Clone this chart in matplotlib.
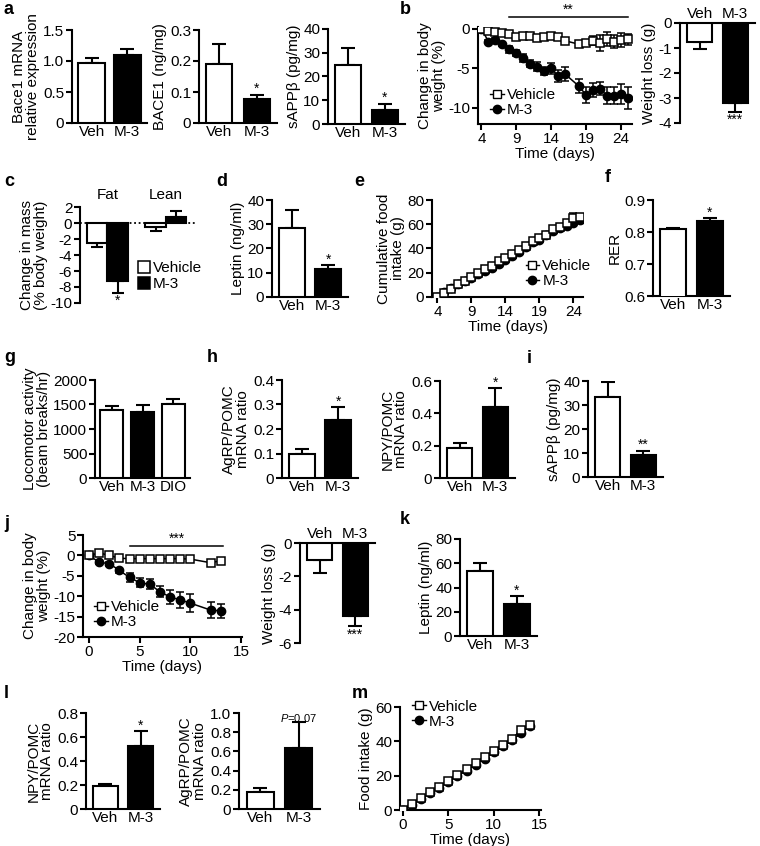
import matplotlib
matplotlib.use('Agg')
import matplotlib.pyplot as plt
import matplotlib.patches as mpatches
from matplotlib.lines import Line2D
import numpy as np

plt.rcParams['font.family'] = ['Liberation Sans', 'DejaVu Sans']
plt.rcParams['mathtext.fontset'] = 'custom'
plt.rcParams['mathtext.it'] = 'Liberation Sans:italic'
plt.rcParams['mathtext.rm'] = 'Liberation Sans'
plt.rcParams['font.size'] = 11

# ---------------- data ----------------
bar_groups = ['Veh', 'M-3']
loco_groups = ['Veh', 'M-3', 'DIO']
series_names = ['Vehicle', 'M-3']
mass_groups = ['Fat', 'Lean']

# a
bace1_mrna = [0.97, 1.10]
bace1_mrna_err = [0.08, 0.09]
bace1_prot = [0.19, 0.078]
bace1_prot_err = [0.065, 0.013]
sappb_a = [25.0, 6.0]
sappb_a_err = [7.0, 2.5]

# b
b_days = [4, 5, 6, 7, 8, 9, 10, 11, 12, 13, 14, 15, 16, 18, 19, 20, 21, 22, 23, 24, 25]
b_veh = [0, -0.3, -0.45, -0.5, -0.6, -1.0, -0.95, -0.95, -1.2, -1.0, -0.95, -1.05, -1.5,
         -1.95, -1.75, -1.5, -1.75, -1.25, -1.6, -1.4, -1.3]
b_veh_err = [0, 0.1, 0.1, 0.1, 0.15, 0.2, 0.2, 0.2, 0.3, 0.3, 0.2, 0.2, 0.2,
             0.3, 0.4, 0.6, 1.0, 0.9, 0.8, 0.9, 0.7]
b_m3 = [0, -1.6, -1.4, -1.9, -2.6, -3.1, -3.7, -4.4, -4.8, -5.3, -5.0, -6.0, -5.75,
        -7.3, -8.4, -7.8, -7.6, -8.5, -8.5, -8.3, -8.8]
b_m3_err = [0, 0.2, 0.3, 0.3, 0.4, 0.4, 0.5, 0.5, 0.6, 0.5, 0.7, 0.8, 0.9,
            0.9, 1.0, 0.9, 0.8, 1.1, 1.1, 1.3, 1.4]
b_loss = [-0.75, -3.2]
b_loss_err = [0.3, 0.35]

# c
c_veh = [-2.5, -0.5]
c_veh_err = [0.5, 0.5]
c_m3 = [-7.2, 0.7]
c_m3_err = [1.5, 0.8]

# d
leptin_d = [28.5, 11.5]
leptin_d_err = [7.5, 1.5]

# e
e_days = list(range(4, 26))
e_veh = [0, 3.5, 7, 10.5, 13.5, 16.5, 19.5, 23.5, 25.5, 29.5, 32, 35.5, 38.5, 42, 46,
         48.7, 51.5, 56, 58, 61, 65.5, 66]
e_veh_err = [0, 0.5, 0.6, 0.7, 0.8, 0.9, 1.0, 1.0, 1.1, 1.2, 1.3, 1.4, 1.5, 1.6, 1.7,
             1.8, 1.9, 2.0, 2.1, 2.3, 3.5, 2.5]
e_m3 = [0, 3.9, 7.2, 10.5, 13.2, 16, 18.7, 21.7, 24.2, 27, 30.5, 34, 37.5, 41, 45.5,
        47, 51, 54.5, 56.7, 58.7, 61, 63.5]
e_m3_err = [0, 0.4, 0.5, 0.6, 0.7, 0.8, 0.9, 1.0, 1.0, 1.1, 1.2, 1.3, 1.4, 1.5, 1.6,
            1.7, 1.8, 1.9, 2.0, 2.1, 2.2, 2.3]

# f
rer = [0.808, 0.833]
rer_err = [0.004, 0.010]

# g
loco = [1380, 1340, 1510]
loco_err = [80, 150, 110]

# h
agrp_h = [0.10, 0.235]
agrp_h_err = [0.02, 0.055]
npy_h = [0.185, 0.44]
npy_h_err = [0.03, 0.115]

# i
sappb_i = [33.5, 9.0]
sappb_i_err = [6.0, 2.0]

# j
j_days = [0, 1, 2, 3, 4, 5, 6, 7, 8, 9, 10, 12, 13]
j_veh = [0, 0.6, 0.0, -0.7, -0.8, -0.8, -0.8, -0.8, -0.8, -0.8, -0.9, -1.8, -1.3]
j_veh_err = [0, 0.3, 0.3, 0.3, 0.3, 0.3, 0.3, 0.3, 0.3, 0.3, 0.3, 0.5, 0.5]
j_m3 = [0, -1.7, -2.0, -3.7, -5.4, -6.7, -7.1, -8.9, -10.2, -10.9, -11.7, -13.4, -13.6]
j_m3_err = [0, 0.5, 0.5, 0.7, 1.0, 1.1, 1.2, 1.4, 1.8, 2.0, 2.2, 2.0, 1.8]
j_loss = [-1.0, -4.4]
j_loss_err = [0.8, 0.6]

# k
leptin_k = [54, 26]
leptin_k_err = [6.5, 7.0]

# l
npy_l = [0.195, 0.525]
npy_l_err = [0.015, 0.125]
agrp_l = [0.175, 0.635]
agrp_l_err = [0.04, 0.27]

# m
m_days = list(range(0, 15))
m_veh = [0, 3.4, 6.8, 10.2, 13.6, 17, 20.5, 24, 27.5, 31, 34.5, 38, 41.5, 46.5, 49.5]
m_veh_err = [0, 0.5, 0.6, 0.7, 0.8, 0.9, 1.0, 1.1, 1.2, 1.3, 1.4, 1.5, 1.6, 1.8, 2.0]
m_m3 = [0, 3.2, 6.5, 9.8, 13, 16.5, 19.8, 23, 26.5, 30, 33.5, 37, 40.5, 45, 49]
m_m3_err = [0, 0.5, 0.6, 0.7, 0.8, 0.9, 1.0, 1.1, 1.2, 1.3, 1.4, 1.5, 1.6, 1.8, 2.0]

WHITE_BLACK = ['white', 'black']

# ---------------- layout helpers ----------------
W, H = 760, 846
fig = plt.figure(figsize=(W / 100, H / 100), dpi=100)
fig.patch.set_facecolor('white')
LW = 1.5
FS = 11


def px_axes(l, t, r, b):
    return fig.add_axes([l / W, 1 - b / H, (r - l) / W, (b - t) / H])


def frame(ax, top=False, xticks=False):
    ax.spines['right'].set_visible(False)
    if top:
        ax.spines['bottom'].set_visible(False)
        ax.xaxis.tick_top()
    else:
        ax.spines['top'].set_visible(False)
    for s in ax.spines.values():
        s.set_linewidth(LW)
    ax.tick_params(axis='y', length=4, width=LW, pad=1.5, labelsize=FS)
    ax.tick_params(axis='x', length=4 if xticks else 0, width=LW, pad=1.5, labelsize=FS)
    ax.patch.set_alpha(0)


def bar_panel(ax, labels, vals, errs, ylim, ticks, ticklabels, ylabel,
              marks=None, top=False, width=0.7, fills=WHITE_BLACK):
    x = np.arange(len(vals))
    ax.bar(x, vals, width=width, color=fills, edgecolor='black', linewidth=LW, zorder=3)
    for xi, v, e in zip(x, vals, errs):
        yerr = [[0], [e]] if v >= 0 else [[e], [0]]
        ax.errorbar([xi], [v], yerr=yerr, fmt='none', ecolor='black',
                    elinewidth=LW, capsize=5, capthick=LW, zorder=2)
    ax.set_xlim(-0.55, len(vals) - 0.45)
    ax.set_ylim(*ylim)
    ax.set_yticks(ticks)
    ax.set_yticklabels(ticklabels)
    ax.set_xticks(x)
    ax.set_xticklabels(labels)
    ax.set_ylabel(ylabel, labelpad=2, linespacing=1.0, fontsize=FS)
    frame(ax, top=top)
    if marks:
        for i, m in marks.items():
            v, e = vals[i], errs[i]
            if v >= 0:
                ax.annotate(m, (x[i], v + e), xytext=(0, -1), textcoords='offset points',
                            ha='center', va='bottom', fontsize=10, annotation_clip=False)
            else:
                ax.annotate(m, (x[i], v - e), xytext=(0, -1), textcoords='offset points',
                            ha='center', va='top', fontsize=10, annotation_clip=False)


def line_panel(ax, days, veh, veh_err, m3, m3_err):
    ax.errorbar(days, m3, yerr=m3_err, fmt='-o', color='black', ms=6, lw=1.1,
                elinewidth=1.1, capsize=3, capthick=1.1, zorder=3)
    ax.errorbar(days, veh, yerr=veh_err, fmt='-s', color='black', mfc='white', mec='black',
                ms=5.5, mew=1.1, lw=1.1, elinewidth=1.1, capsize=3, capthick=1.1, zorder=4)
    frame(ax, xticks=True)


def series_legend(ax, anchor):
    handles = [Line2D([], [], color='black', lw=1, marker='s', mfc='white', mec='black', ms=5.5),
               Line2D([], [], color='black', lw=1, marker='o', ms=6)]
    ax.legend(handles, series_names, loc='center left', bbox_to_anchor=anchor, frameon=False,
              handlelength=0.9, handletextpad=0.2, borderpad=0, labelspacing=0.05,
              borderaxespad=0, fontsize=FS)


def letter(x, y, s):
    fig.text(x / W, 1 - y / H, s, fontsize=13, fontweight='bold', ha='left', va='center')


# ---------------- panel a ----------------
letter(4, 10, 'a')
ax = px_axes(72, 30, 147, 123)
bar_panel(ax, bar_groups, bace1_mrna, bace1_mrna_err, (0, 1.5), [0, 0.5, 1.0, 1.5],
          ['0', '0.5', '1.0', '1.5'], 'Bace1 mRNA\nrelative expression', width=0.75)
ax = px_axes(199, 30, 277, 123)
bar_panel(ax, bar_groups, bace1_prot, bace1_prot_err, (0, 0.3), [0, 0.1, 0.2, 0.3],
          ['0', '0.1', '0.2', '0.3'], 'BACE1 (ng/mg)', marks={1: '*'})
ax = px_axes(328, 29, 405, 124)
bar_panel(ax, bar_groups, sappb_a, sappb_a_err, (0, 40), [0, 10, 20, 30, 40],
          ['0', '10', '20', '30', '40'], 'sAPPβ (pg/mg)', marks={1: '*'})

# ---------------- panel b ----------------
letter(400, 10, 'b')
ax = px_axes(478, 27, 632, 124)
line_panel(ax, b_days, b_veh, b_veh_err, b_m3, b_m3_err)
ax.set_xlim(3.5, 25.6)
ax.set_ylim(-12.1, 0.25)
ax.set_xticks([4, 9, 14, 19, 24])
ax.set_yticks([0, -5, -10])
ax.set_yticklabels(['0', '-5', '-10'])
ax.set_xlabel('Time (days)', labelpad=1)
ax.set_ylabel('Change in body\nweight (%)', labelpad=2, linespacing=1.0)
ax.plot([8, 25], [1.5, 1.5], color='black', lw=1.1, clip_on=False)
ax.text(16.5, 1.6, '**', ha='center', va='bottom', fontsize=10)
series_legend(ax, (0.08, 0.22))

ax = px_axes(680, 23, 755, 123)
bar_panel(ax, bar_groups, b_loss, b_loss_err, (-4, 0), [0, -1, -2, -3, -4],
          ['0', '-1', '-2', '-3', '-4'], 'Weight loss (g)', marks={1: '***'}, top=True)

# ---------------- panel c ----------------
letter(4, 182, 'c')
ax = px_axes(80, 207, 195, 303)
gx = np.arange(len(mass_groups))
off, bw = 0.175, 0.35
for dx, vals, errs, col in [(-off, c_veh, c_veh_err, 'white'), (off, c_m3, c_m3_err, 'black')]:
    ax.bar(gx + dx, vals, width=bw, color=col, edgecolor='black', linewidth=LW, zorder=3)
    for xi, v, e in zip(gx + dx, vals, errs):
        yerr = [[0], [e]] if v >= 0 else [[e], [0]]
        ax.errorbar([xi], [v], yerr=yerr, fmt='none', ecolor='black', elinewidth=LW,
                    capsize=4, capthick=LW, zorder=2)
ax.axhline(0, color='black', lw=1.3, ls=(0, (1, 1.5)), zorder=1)
ax.set_xlim(-0.47, 1.5)
ax.set_ylim(-10, 2)
ax.set_yticks([2, 0, -2, -4, -6, -8, -10])
ax.set_yticklabels(['2', '0', '-2', '-4', '-6', '-8', '-10'])
ax.set_xticks([])
ax.set_ylabel('Change in mass\n(% body weight)', labelpad=2, linespacing=1.0)
frame(ax)
ax.spines['bottom'].set_visible(False)
for g, name in zip(gx, mass_groups):
    ax.text(g, 2.6, name, ha='center', va='bottom', fontsize=FS)
ax.annotate('*', (off, c_m3[0] - c_m3_err[0]), xytext=(0, -1), textcoords='offset points',
            ha='center', va='top', fontsize=10)
ax.legend([mpatches.Patch(facecolor='white', edgecolor='black', lw=1.1),
           mpatches.Patch(facecolor='black', edgecolor='black', lw=1.1)], series_names,
          loc='center left', bbox_to_anchor=(0.5, 0.28), frameon=False, handlelength=0.8,
          handleheight=0.8, handletextpad=0.2, labelspacing=0.1, borderpad=0, borderaxespad=0,
          fontsize=FS)

# ---------------- panel d ----------------
letter(216, 182, 'd')
ax = px_axes(272, 200, 348, 297)
bar_panel(ax, bar_groups, leptin_d, leptin_d_err, (0, 40), [0, 10, 20, 30, 40],
          ['0', '10', '20', '30', '40'], 'Leptin (ng/ml)', marks={1: '*'})

# ---------------- panel e ----------------
letter(354, 182, 'e')
ax = px_axes(432, 200, 583, 297)
line_panel(ax, e_days, e_veh, e_veh_err, e_m3, e_m3_err)
ax.set_xlim(3.2, 25.4)
ax.set_ylim(0, 80)
ax.set_xticks([4, 9, 14, 19, 24])
ax.set_yticks([0, 20, 40, 60, 80])
ax.set_xlabel('Time (days)', labelpad=1)
ax.set_ylabel('Cumulative food\nintake (g)', labelpad=2, linespacing=1.0)
series_legend(ax, (0.62, 0.24))

# ---------------- panel f ----------------
letter(605, 178, 'f')
ax = px_axes(653, 200, 730, 296)
bar_panel(ax, bar_groups, rer, rer_err, (0.6, 0.9), [0.6, 0.7, 0.8, 0.9],
          ['0.6', '0.7', '0.8', '0.9'], 'RER', marks={1: '*'})

# ---------------- panel g ----------------
letter(4, 357, 'g')
ax = px_axes(95, 380, 190, 478)
bar_panel(ax, loco_groups, loco, loco_err, (0, 2000), [0, 500, 1000, 1500, 2000],
          ['0', '500', '1000', '1500', '2000'], 'Locomotor activity\n(beam breaks/hr)',
          width=0.75, fills=['white', 'black', 'white'])

# ---------------- panel h ----------------
letter(207, 357, 'h')
ax = px_axes(282, 380, 358, 478)
bar_panel(ax, bar_groups, agrp_h, agrp_h_err, (0, 0.4), [0, 0.1, 0.2, 0.3, 0.4],
          ['0', '0.1', '0.2', '0.3', '0.4'], 'AgRP/POMC\nmRNA ratio', marks={1: '*'})
ax = px_axes(440, 381, 515, 478)
bar_panel(ax, bar_groups, npy_h, npy_h_err, (0, 0.6), [0, 0.2, 0.4, 0.6],
          ['0', '0.2', '0.4', '0.6'], 'NPY/POMC\nmRNA ratio', marks={1: '*'})

# ---------------- panel i ----------------
letter(527, 358, 'i')
ax = px_axes(588, 381, 663, 477)
bar_panel(ax, bar_groups, sappb_i, sappb_i_err, (0, 40), [0, 10, 20, 30, 40],
          ['0', '10', '20', '30', '40'], 'sAPPβ (pg/mg)', marks={1: '**'})

# ---------------- panel j ----------------
letter(4, 523, 'j')
ax = px_axes(83, 535, 242, 637)
line_panel(ax, j_days, j_veh, j_veh_err, j_m3, j_m3_err)
ax.set_xlim(-0.6, 15.1)
ax.set_ylim(-20, 5)
ax.set_xticks([0, 5, 10, 15])
ax.set_yticks([5, 0, -5, -10, -15, -20])
ax.set_yticklabels(['5', '0', '-5', '-10', '-15', '-20'])
ax.set_xlabel('Time (days)', labelpad=1)
ax.set_ylabel('Change in body\nweight (%)', labelpad=2, linespacing=1.0)
ax.plot([4, 13.2], [2.2, 2.2], color='black', lw=1.1, clip_on=False)
ax.text(8.7, 2.3, '***', ha='center', va='bottom', fontsize=10)
series_legend(ax, (0.07, 0.22))

ax = px_axes(300, 543, 375, 643)
bar_panel(ax, bar_groups, j_loss, j_loss_err, (-6, 0), [0, -2, -4, -6],
          ['0', '-2', '-4', '-6'], 'Weight loss (g)', marks={1: '***'}, top=True)

# ---------------- panel k ----------------
letter(400, 520, 'k')
ax = px_axes(460, 539, 537, 636)
bar_panel(ax, bar_groups, leptin_k, leptin_k_err, (0, 80), [0, 20, 40, 60, 80],
          ['0', '20', '40', '60', '80'], 'Leptin (ng/ml)', marks={1: '*'})

# ---------------- panel l ----------------
letter(4, 693, 'l')
ax = px_axes(86, 713, 160, 809)
bar_panel(ax, bar_groups, npy_l, npy_l_err, (0, 0.8), [0, 0.2, 0.4, 0.6, 0.8],
          ['0', '0.2', '0.4', '0.6', '0.8'], 'NPY/POMC\nmRNA ratio', marks={1: '*'})
ax = px_axes(239, 713, 320, 809)
bar_panel(ax, bar_groups, agrp_l, agrp_l_err, (0, 1.0), [0, 0.2, 0.4, 0.6, 0.8, 1.0],
          ['0', '0.2', '0.4', '0.6', '0.8', '1.0'], 'AgRP/POMC\nmRNA ratio',
          marks={1: r'$\mathit{P}$=0.07'})
ax.texts[-1].set_fontsize(8)

# ---------------- panel m ----------------
letter(352, 693, 'm')
ax = px_axes(400, 707, 541, 810)
line_panel(ax, m_days, m_veh, m_veh_err, m_m3, m_m3_err)
ax.set_xlim(-0.33, 15.2)
ax.set_ylim(0, 60)
ax.set_xticks([0, 5, 10, 15])
ax.set_yticks([0, 20, 40, 60])
ax.set_xlabel('Time (days)', labelpad=1)
ax.set_ylabel('Food intake (g)', labelpad=2)
series_legend(ax, (0.085, 0.93))

fig.savefig('out.png', dpi=100, facecolor='white')
